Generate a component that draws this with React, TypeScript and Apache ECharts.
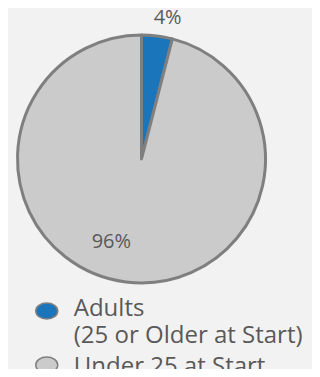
import React, { useEffect, useRef } from "react";
import * as echarts from "echarts";

const categories = ["Adults\n(25 or Older at Start)", "Under 25 at Start"];
const values = [4, 96];
const colors = ["#1b75bb", "#cbcbcb"];

export default function App() {
  const ref = useRef<HTMLDivElement>(null);
  useEffect(() => {
    const chart = echarts.init(ref.current!, null, { renderer: "svg" });
    const font = "'Open Sans', sans-serif";
    chart.setOption({
      animation: false,
      backgroundColor: "#f2f2f2",
      legend: {
        orient: "vertical",
        left: 35,
        top: 275,
        padding: 0,
        icon: "path://M0,8A11,8 0 1,1 22,8A11,8 0 1,1 0,8Z",
        itemWidth: 22,
        itemHeight: 16,
        itemGap: 5,
        itemStyle: { borderColor: "#7f7f7f", borderWidth: 1.5 },
        formatter: (name: string) =>
          name === categories[1]
            ? `{u|${name}}`
            : name
                .split("\n")
                .map((s) => `{t|${s}}`)
                .join("\n"),
        textStyle: {
          color: "#595959",
          fontSize: 24,
          fontFamily: font,
          lineHeight: 27,
          rich: {
            t: { color: "#595959", fontSize: 24, fontFamily: font, lineHeight: 27 },
            u: { color: "#595959", fontSize: 24, fontFamily: font, lineHeight: 20 },
          },
        },
        data: [
          { name: categories[0], textStyle: { padding: [18, 0, 0, 11] } },
          { name: categories[1], textStyle: { padding: [0, 0, 2, 11] } },
        ],
      },
      series: [
        {
          type: "pie",
          center: [141.5, 159],
          radius: [0, 124],
          startAngle: 90,
          clockwise: true,
          avoidLabelOverlap: false,
          itemStyle: { borderColor: "#7f7f7f", borderWidth: 3 },
          labelLine: { show: false },
          label: {
            position: "inside",
            formatter: "{c}%",
            color: "#595959",
            fontSize: 20,
            fontFamily: font,
          },
          data: categories.map((c, i) => ({
            name: c,
            value: values[i],
            itemStyle: { color: colors[i] },
            label: { offset: i === 0 ? [18, -78] : [-22, 17] },
          })),
        },
      ],
    });
    return () => chart.dispose();
  }, []);
  return <div ref={ref} style={{ width: 320, height: 377, margin: -8 }} />;
}
